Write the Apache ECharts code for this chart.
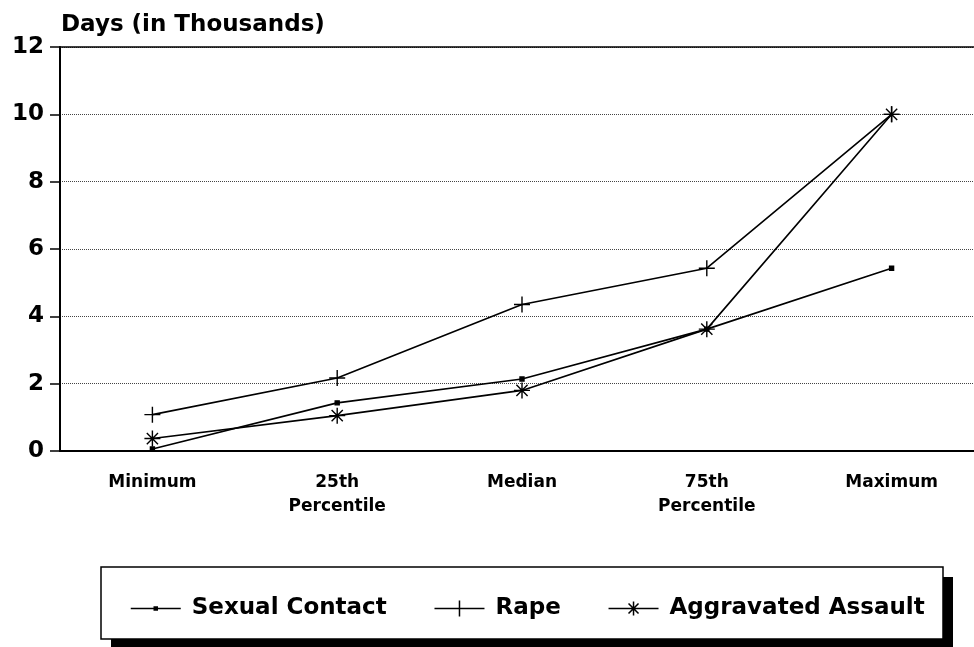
<!DOCTYPE html>
<html lang="en">
<head>
<meta charset="UTF-8">
<title>Days (in Thousands)</title>
<script src="https://cdn.jsdelivr.net/npm/echarts@6/dist/echarts.min.js"></script>
<style>
  html, body { margin: 0; padding: 0; background: #fff; overflow: hidden; }
  #main { width: 984px; height: 647px; }
</style>
</head>
<body>
<div id="main"></div>
<script>
  // categories and values (thousands of days)
  var categories = ['Minimum', '25th\nPercentile', 'Median', '75th\nPercentile', 'Maximum'];
  var sexualContact = [0.06, 1.43, 2.14, 3.62, 5.43];
  var rape = [1.08, 2.17, 4.35, 5.43, 10];
  var aggravatedAssault = [0.37, 1.05, 1.8, 3.62, 10];

  var plusPath = 'path://M0,-10L0,10M-10,0L10,0';
  var starPath = 'path://M0,-10L0,10M-10,0L10,0M-7,-7L7,7M-7,7L7,-7';

  // legend icons: a short line with the marker in the middle (50 x 16 box)
  var dotIcon = 'path://M0,0M50,16M0,8L50,8M23.5,6.5L26.5,6.5L26.5,9.5L23.5,9.5Z';
  var plusIcon = 'path://M0,0M50,16M0,8L50,8M25,0L25,16';
  var starIcon = 'path://M0,0M50,16M0,8L50,8M25,1L25,15M18,8L32,8M20,3L30,13M20,13L30,3';

  var chart = echarts.init(document.getElementById('main'));
  var font = '"DejaVu Sans", Verdana, sans-serif';

  function lineSeries(name, data, symbol, size) {
    return {
      name: name,
      type: 'line',
      data: data,
      symbol: symbol,
      symbolSize: size,
      showAllSymbol: true,
      lineStyle: { color: '#000', width: 1.6 },
      itemStyle: { color: '#000', borderColor: '#000', borderWidth: 1.4 },
      animation: false
    };
  }

  var option = {
    backgroundColor: '#fff',
    title: {
      text: 'Days (in Thousands)',
      left: 56,
      top: 9,
      textStyle: { fontFamily: font, fontSize: 23, fontWeight: 'bold', color: '#000' }
    },
    graphic: [
      { type: 'rect', shape: { x: 111, y: 577, width: 842, height: 72 }, style: { fill: '#000' } },
      { type: 'rect', shape: { x: 101, y: 567, width: 842, height: 72 },
        style: { fill: '#fff', stroke: '#000', lineWidth: 1.5 } }
    ],
    legend: {
      left: 125,
      top: 592,
      itemWidth: 50,
      itemHeight: 16,
      itemGap: 47,
      itemStyle: { borderWidth: 1.5, borderColor: '#000' },
      textStyle: { fontFamily: font, fontSize: 23, fontWeight: 'bold', color: '#000', padding: [0, 0, 0, 6] },
      data: [
        { name: 'Sexual Contact', icon: dotIcon },
        { name: 'Rape', icon: plusIcon },
        { name: 'Aggravated Assault', icon: starIcon }
      ]
    },
    grid: { left: 60, right: 0, top: 47, bottom: 196 },
    xAxis: [{
      type: 'category',
      data: categories,
      boundaryGap: true,
      axisLine: { lineStyle: { color: '#000', width: 2 } },
      axisTick: { alignWithLabel: true, length: 9, lineStyle: { color: '#000', width: 1.5 } },
      axisLabel: {
        fontFamily: font, fontSize: 17, fontWeight: 'bold', color: '#000',
        margin: 20, lineHeight: 24
      }
    }, {
      type: 'category',
      data: categories,
      position: 'top',
      axisLine: { lineStyle: { color: '#000', width: 1.5 } },
      axisTick: { show: false },
      axisLabel: { show: false }
    }],
    yAxis: {
      type: 'value',
      min: 0,
      max: 12,
      interval: 2,
      axisLine: { show: true, lineStyle: { color: '#000', width: 2 } },
      axisTick: { show: true, length: 10, lineStyle: { color: '#000', width: 1.5 } },
      axisLabel: { fontFamily: font, fontSize: 23, fontWeight: 'bold', color: '#000', margin: 16 },
      splitLine: { lineStyle: { color: '#444', type: 'dotted', width: 1 } }
    },
    series: [
      lineSeries('Sexual Contact', sexualContact, 'rect', 4),
      lineSeries('Rape', rape, plusPath, 16),
      lineSeries('Aggravated Assault', aggravatedAssault, starPath, 16)
    ]
  };

  chart.setOption(option);
</script>
</body>
</html>
